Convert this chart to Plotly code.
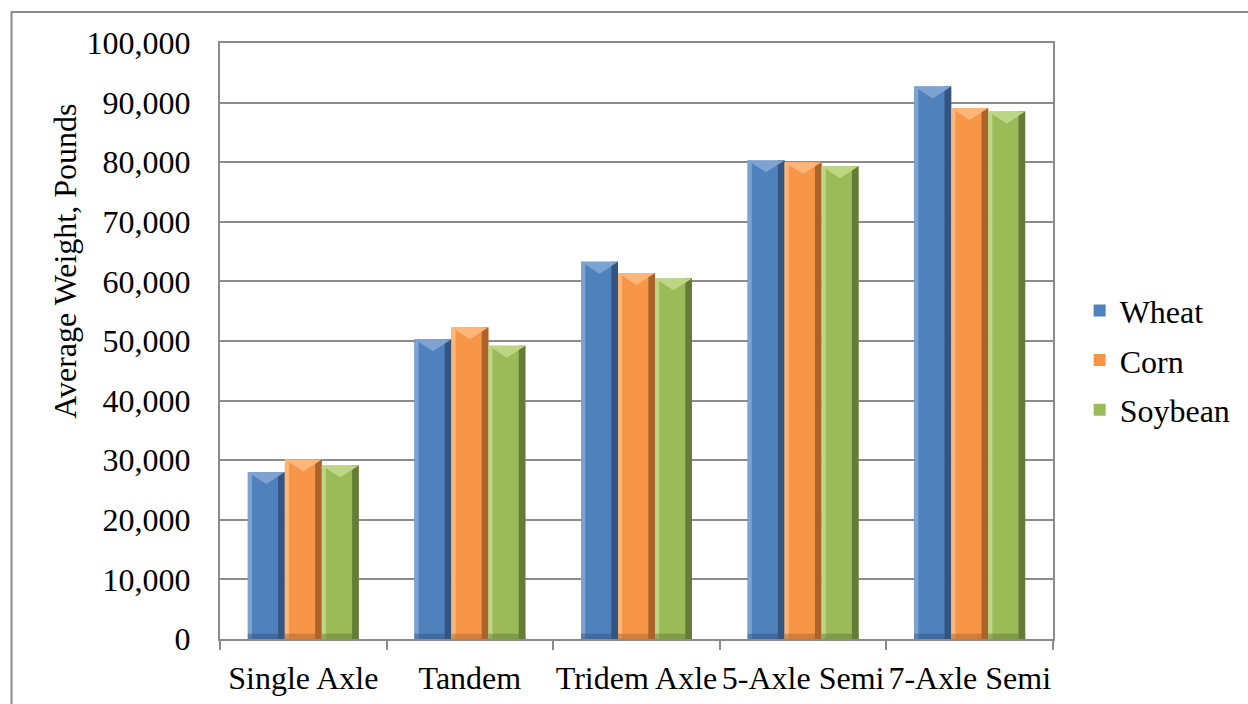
import plotly.graph_objects as go

# Average loaded truck weight by configuration and commodity
categories = ["Single Axle", "Tandem", "Tridem Axle", "5-Axle Semi", "7-Axle Semi"]
wheat = [28000, 50300, 63300, 80300, 92700]
corn = [30100, 52300, 61400, 80000, 89100]
soybean = [29100, 49200, 60500, 79300, 88500]

y_ticks = [0, 10000, 20000, 30000, 40000, 50000, 60000, 70000, 80000, 90000, 100000]
y_tick_text = [f"{v:,}" for v in y_ticks]

series = [
    # name, values, base, dark edge, light edge
    ("Wheat", wheat, "#4F81BD", "#34557F", "#7EA3D3"),
    ("Corn", corn, "#F79646", "#A9632B", "#FDB678"),
    ("Soybean", soybean, "#9BBB59", "#647C37", "#BCD684"),
]

FONT = "Liberation Serif"
FS = 32
BAR_W = 0.222
offsets = [-0.333, -0.111, 0.111]
x_pos = list(range(len(categories)))

fig = go.Figure()

for (name, vals, base, dark, light), off in zip(series, offsets):
    # main bar body
    fig.add_trace(go.Bar(
        x=x_pos, y=vals, name=name, width=BAR_W, offset=off,
        marker=dict(color=base, line=dict(width=0)),
        legendgroup=name,
    ))
    # left highlight strip
    fig.add_trace(go.Bar(
        x=x_pos, y=vals, width=0.025, offset=off,
        marker=dict(color=light, line=dict(width=0)),
        showlegend=False, legendgroup=name, hoverinfo="skip",
    ))
    # right shadow strip
    fig.add_trace(go.Bar(
        x=x_pos, y=vals, width=0.04, offset=off + BAR_W - 0.04,
        marker=dict(color=dark, line=dict(width=0)),
        showlegend=False, legendgroup=name, hoverinfo="skip",
    ))
    # bottom shadow band
    fig.add_trace(go.Bar(
        x=x_pos, y=[900] * len(vals), width=BAR_W, offset=off,
        marker=dict(color=dark, opacity=0.5, line=dict(width=0)),
        showlegend=False, legendgroup=name, hoverinfo="skip",
    ))
    # top bevel highlight (V shape)
    tx, ty = [], []
    for xi, v in zip(x_pos, vals):
        xl = xi + off
        xr = xl + BAR_W
        xc = (xl + xr) / 2
        tx += [xl, xr, xc, xl, None]
        ty += [v, v, v - 2000, v, None]
    fig.add_trace(go.Scatter(
        x=tx, y=ty, mode="lines", fill="toself", fillcolor=light,
        line=dict(width=0), showlegend=False, legendgroup=name,
        hoverinfo="skip",
    ))

grid = "#8C8C8C"

fig.update_layout(
    width=1248, height=704,
    margin=dict(l=220, r=190, t=43, b=65),
    paper_bgcolor="white", plot_bgcolor="white",
    barmode="overlay",
    font=dict(family=FONT, size=FS, color="black"),
    showlegend=True,
    legend=dict(
        x=1.032, y=0.597, xanchor="left", yanchor="top",
        traceorder="grouped", tracegroupgap=5,
        font=dict(family=FONT, size=FS),
        bgcolor="rgba(0,0,0,0)",
    ),
    xaxis=dict(
        range=[-0.5, len(categories) - 0.5],
        tickmode="array", tickvals=x_pos, ticktext=categories,
        ticks="", showgrid=False, zeroline=False, automargin=False,
        showline=True, linecolor=grid, linewidth=2, mirror=True,
        ticklabelstandoff=10,
        minor=dict(tickmode="linear", tick0=-0.5, dtick=1, ticks="outside",
                   ticklen=9, tickwidth=2, tickcolor=grid, showgrid=False),
        tickfont=dict(family=FONT, size=FS),
        fixedrange=True,
    ),
    yaxis=dict(
        range=[0, 100000],
        tickmode="array", tickvals=y_ticks, ticktext=y_tick_text,
        ticks="", showgrid=True, gridcolor=grid, gridwidth=2,
        zeroline=False, showline=True, linecolor=grid, linewidth=2, mirror=True,
        ticklabelstandoff=21, automargin=False,
        tickfont=dict(family=FONT, size=FS),
        fixedrange=True,
    ),
    annotations=[dict(
        text="Average Weight, Pounds", textangle=-90,
        xref="paper", yref="paper", x=-0.186, y=0.633,
        xanchor="center", yanchor="middle", showarrow=False,
        font=dict(family=FONT, size=FS),
    )],
    shapes=[dict(
        type="rect", xref="paper", yref="paper",
        x0=-0.2503, x1=1.3, y0=-0.2, y1=1.052,
        line=dict(color="#8C8C8C", width=2), fillcolor="rgba(0,0,0,0)",
        layer="below",
    )],
)

fig.write_html("out.html")
